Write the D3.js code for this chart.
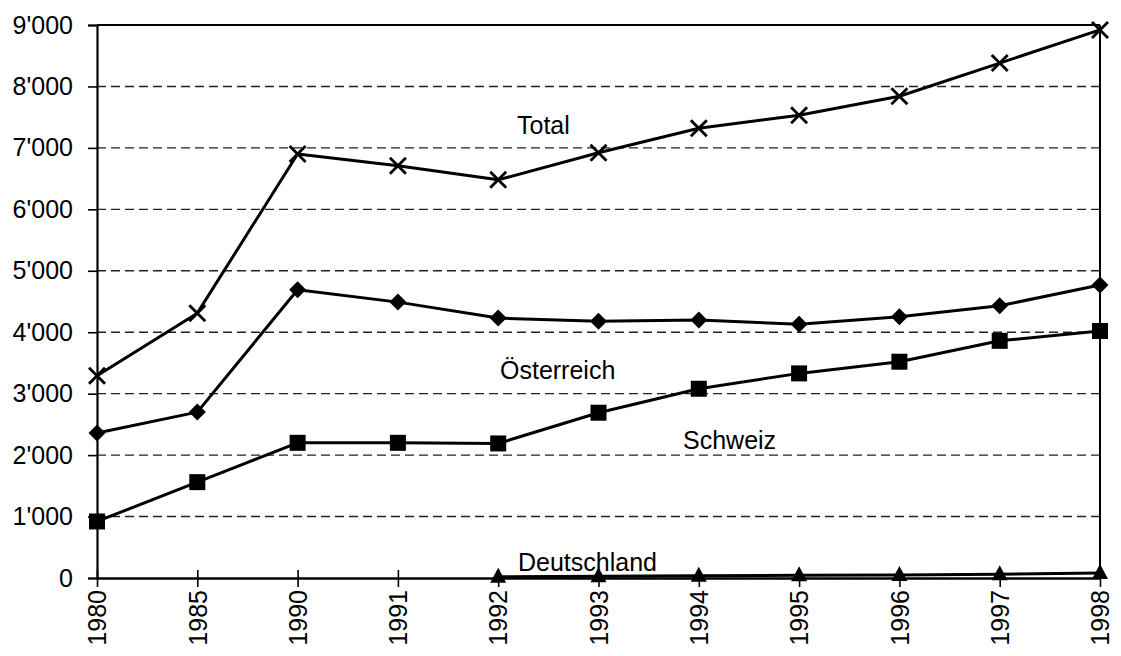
<!DOCTYPE html>
<html>
<head>
<meta charset="utf-8">
<script src="https://cdn.jsdelivr.net/npm/d3@7"></script>
<style>
  html, body { margin: 0; padding: 0; background: #fff; }
  svg { display: block; font-family: "Liberation Sans", Arial, Helvetica, sans-serif; }
</style>
</head>
<body>
<svg id="chart" width="1121" height="656"></svg>
<script>
// ---- Data ----
const years = ["1980","1985","1990","1991","1992","1993","1994","1995","1996","1997","1998"];
const total       = [3290, 4310, 6900, 6710, 6480, 6920, 7320, 7530, 7840, 8380, 8920];
const oesterreich = [2360, 2700, 4690, 4490, 4230, 4180, 4200, 4130, 4250, 4430, 4770];
const schweiz     = [ 920, 1560, 2200, 2200, 2190, 2690, 3080, 3330, 3520, 3860, 4020];
const deutschland = [null, null, null, null, 20, 30, 35, 45, 50, 60, 80];
const yTicks = [0, 1000, 2000, 3000, 4000, 5000, 6000, 7000, 8000, 9000];
const seriesLabels = ["Total", "Österreich", "Schweiz", "Deutschland"];

(function () {
// ---- Layout ----
const svg = d3.select("#chart");
const pL = 97, pR = 1100, pT = 25, pB = 578;

const x = d3.scalePoint().domain(years).range([pL, pR]);
const y = d3.scaleLinear().domain([0, 9000]).range([pB, pT]);

const fmt = d3.formatLocale({decimal: ".", thousands: "'", grouping: [3], currency: ["", ""]}).format(",");

// gridlines
svg.append("g").selectAll("line")
  .data(yTicks.filter(d => d > 0 && d < 9000))
  .join("line")
  .attr("x1", pL).attr("x2", pR)
  .attr("y1", d => y(d)).attr("y2", d => y(d))
  .attr("stroke", "#222").attr("stroke-width", 1.4)
  .attr("stroke-dasharray", "9,5");

// plot frame (top + right)
svg.append("line").attr("x1", pL).attr("x2", pR).attr("y1", y(9000)).attr("y2", y(9000))
  .attr("stroke", "#000").attr("stroke-width", 2);
svg.append("line").attr("x1", pR).attr("x2", pR).attr("y1", y(9000)).attr("y2", y(0))
  .attr("stroke", "#000").attr("stroke-width", 2);

// y axis
const yAxis = svg.append("g")
  .attr("transform", `translate(${pL},0)`)
  .call(d3.axisLeft(y).tickValues(yTicks).tickFormat(fmt).tickSize(9).tickPadding(15));
yAxis.select(".domain").attr("stroke", "#000").attr("stroke-width", 2.2);
yAxis.selectAll(".tick line").attr("stroke", "#000").attr("stroke-width", 1.6);
yAxis.selectAll(".tick text").attr("font-size", 25).attr("fill", "#000")
  .attr("font-family", "Liberation Sans, Arial, sans-serif");

// x axis
const xAxis = svg.append("g")
  .attr("transform", `translate(0,${pB})`)
  .call(d3.axisBottom(x).tickSize(8).tickSizeOuter(0).tickPadding(0));
xAxis.select(".domain").attr("stroke", "#000").attr("stroke-width", 2.4);
xAxis.selectAll(".tick line").attr("stroke", "#000").attr("stroke-width", 1.6)
  .attr("y1", -8).attr("y2", 9);
xAxis.selectAll(".tick text")
  .attr("font-size", 25).attr("fill", "#000")
  .attr("font-family", "Liberation Sans, Arial, sans-serif")
  .attr("text-anchor", "end")
  .attr("dy", "0.35em")
  .attr("transform", "translate(0,12) rotate(-90)")
  .attr("x", 0).attr("y", 0);

// lines
const lineGen = d3.line()
  .defined(d => d.v != null)
  .x(d => x(d.year)).y(d => y(d.v));

function seriesData(arr) { return years.map((yr, i) => ({year: yr, v: arr[i]})); }

const seriesList = [
  {data: seriesData(deutschland), marker: "triangle"},
  {data: seriesData(schweiz), marker: "square"},
  {data: seriesData(oesterreich), marker: "diamond"},
  {data: seriesData(total), marker: "cross"}
];

seriesList.forEach(s => {
  svg.append("path").datum(s.data)
    .attr("d", lineGen)
    .attr("fill", "none").attr("stroke", "#000").attr("stroke-width", 3)
    .attr("stroke-linejoin", "round");

  const pts = svg.append("g").selectAll("g")
    .data(s.data.filter(d => d.v != null))
    .join("g")
    .attr("transform", d => `translate(${x(d.year)},${y(d.v)})`);

  if (s.marker === "cross") {
    pts.append("path").attr("d", "M-8,-8L8,8M-8,8L8,-8")
      .attr("stroke", "#000").attr("stroke-width", 2.8).attr("fill", "none");
  } else if (s.marker === "diamond") {
    pts.append("path").attr("d", "M0,-8.5L8.5,0L0,8.5L-8.5,0Z").attr("fill", "#000");
  } else if (s.marker === "square") {
    pts.append("rect").attr("x", -8).attr("y", -8).attr("width", 16).attr("height", 16).attr("fill", "#000");
  } else if (s.marker === "triangle") {
    pts.append("path").attr("d", "M0,-9L8,6L-8,6Z").attr("fill", "#000");
  }
});

// series labels
const labelPos = [
  {t: seriesLabels[0], x: 517, y: 134},
  {t: seriesLabels[1], x: 500, y: 379},
  {t: seriesLabels[2], x: 683, y: 449},
  {t: seriesLabels[3], x: 518, y: 571}
];
svg.append("g").selectAll("text").data(labelPos).join("text")
  .attr("x", d => d.x).attr("y", d => d.y)
  .attr("font-size", 25).attr("fill", "#000")
  .text(d => d.t);
})();
</script>
</body>
</html>
